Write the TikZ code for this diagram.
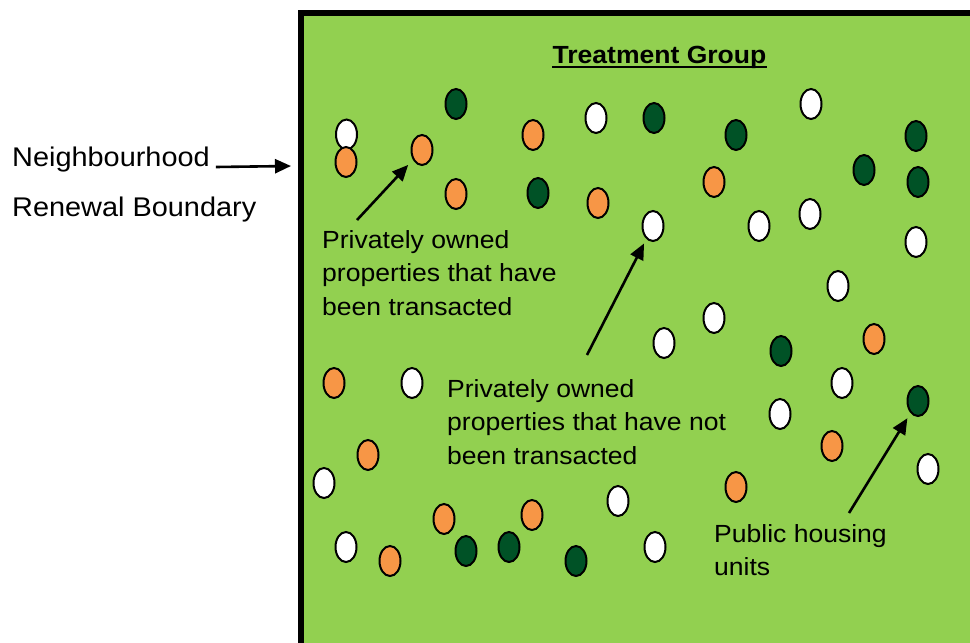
\documentclass[tikz,border=0pt]{standalone}
\usepackage{fontspec}
\setmainfont[FakeStretch=1.07]{Liberation Sans}
\usetikzlibrary{arrows.meta,shapes.geometric}
\definecolor{boxgreen}{RGB}{146,208,80}
\definecolor{porange}{RGB}{247,150,70}
\definecolor{pdark}{RGB}{0,82,38}
\begin{document}
\begin{tikzpicture}[x=1pt,y=-1pt,
  unit/.style={ellipse, draw=black, line width=2pt, minimum width=21pt, minimum height=30pt, inner sep=0pt, outer sep=0pt},
  wu/.style={unit, fill=white},
  ou/.style={unit, fill=porange},
  gu/.style={unit, fill=pdark},
  lbl/.style={font=\fontsize{24.8}{33.5}\selectfont, align=left, inner sep=0pt, anchor=base west},
  arr/.style={line width=2.6pt, -{Triangle[length=16pt,width=14pt]}}
]
\useasboundingbox (0,0) rectangle (970,643);
\begin{scope}
\clip (0,0) rectangle (970,643);
\node[draw, line width=6pt, fill=boxgreen, anchor=north west, minimum width=700pt, minimum height=660pt, inner sep=0pt, outer sep=0pt] (box) at (300.5,13) {};
% white: not transacted
\node[wu] (w1) at (346.5,134.5) {};
\node[wu] (w2) at (596,118) {};
\node[wu] (w3) at (811,104) {};
\node[wu] (w4) at (653,226) {};
\node[wu] (w5) at (759,226) {};
\node[wu] (w6) at (810,214) {};
\node[wu] (w7) at (916,242) {};
\node[wu] (w8) at (838,286) {};
\node[wu] (w9) at (714,318) {};
\node[wu] (w10) at (664,343) {};
\node[wu] (w11) at (842,383) {};
\node[wu] (w12) at (412,383) {};
\node[wu] (w13) at (780,414) {};
\node[wu] (w14) at (928,469) {};
\node[wu] (w15) at (324,483) {};
\node[wu] (w16) at (618,501) {};
\node[wu] (w17) at (346,547) {};
\node[wu] (w18) at (655,547) {};
% orange: transacted
\node[ou] (o1) at (346,162) {};
\node[ou] (o2) at (422,150) {};
\node[ou] (o3) at (533,135) {};
\node[ou] (o4) at (456,194) {};
\node[ou] (o5) at (598,203) {};
\node[ou] (o6) at (714,182) {};
\node[ou] (o7) at (874,339) {};
\node[ou] (o8) at (334,383) {};
\node[ou] (o9) at (368,455) {};
\node[ou] (o10) at (832,446) {};
\node[ou] (o11) at (736,487) {};
\node[ou] (o12) at (444,519) {};
\node[ou] (o13) at (532,515) {};
\node[ou] (o14) at (390,561) {};
% dark green: public housing
\node[gu] (g1) at (456,104) {};
\node[gu] (g2) at (654,118) {};
\node[gu] (g3) at (736,135) {};
\node[gu] (g4) at (916,136) {};
\node[gu] (g5) at (864,170) {};
\node[gu] (g6) at (918,182) {};
\node[gu] (g7) at (538,193) {};
\node[gu] (g8) at (781,351) {};
\node[gu] (g9) at (918,401) {};
\node[gu] (g10) at (466,551) {};
\node[gu] (g11) at (509,547) {};
\node[gu] (g12) at (576,561) {};
\end{scope}
% title
\node[font=\fontsize{24.8}{30}\selectfont\bfseries, anchor=base, inner sep=0pt] (title) at (659.5,63) {Treatment Group};
\draw[line width=2pt] ([yshift=-4pt]title.base west) -- ([yshift=-4pt]title.base east);
% left label
\node[lbl, font=\fontsize{27}{33}\selectfont] (nb) at (12,166) {Neighbourhood};
\node[lbl, font=\fontsize{27}{33}\selectfont] (rb) at (12,216) {Renewal Boundary};
\draw[arr] ([shift={(6pt,-1pt)}]nb.base east) -- ([xshift=-9.5pt]box.west |- nb.base);
% labels (base = baseline of last line)
\node[lbl] (t1) at (322,315) {Privately owned\\properties that have\\been transacted};
\node[lbl] (t2) at (447,464) {Privately owned\\properties that have not\\been transacted};
\node[lbl] (t3) at (714,575.5) {Public housing\\units};
\coordinate (a1) at (357,220);
\coordinate (a2) at (587,355);
\coordinate (a3) at (849,513);
\draw[arr, shorten >=8pt] (a1) -- (o2);
\draw[arr, shorten >=6pt] (a2) -- (w4);
\draw[arr, shorten >=7pt] (a3) -- (g9);
\end{tikzpicture}
\end{document}
